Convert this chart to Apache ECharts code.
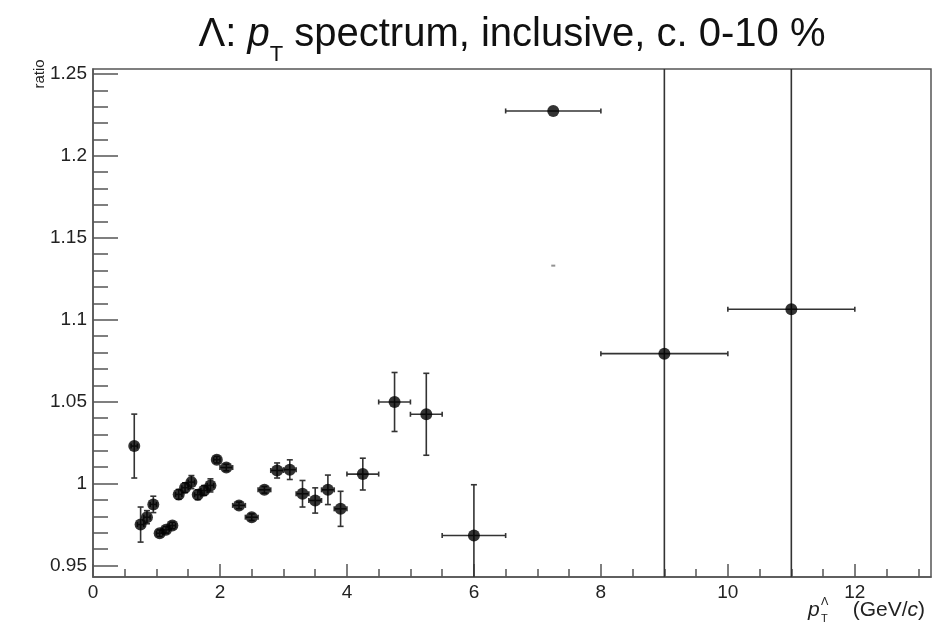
<!DOCTYPE html>
<html>
<head>
<meta charset="utf-8">
<title>Lambda pT spectrum ratio</title>
<script src="https://cdn.jsdelivr.net/npm/echarts@6/dist/echarts.min.js"></script>
<style>
  html, body { margin: 0; padding: 0; background: #fff; }
  #main { width: 935px; height: 631px; }
</style>
</head>
<body>
<div id="main"></div>
<script>
// bin centres in pT (GeV/c) and the ratio
var ptCenter = [0.65, 0.75, 0.85, 0.95, 1.05, 1.15, 1.25, 1.35, 1.45, 1.55, 1.65, 1.75, 1.85, 1.95,
  2.1, 2.3, 2.5, 2.7, 2.9, 3.1, 3.3, 3.5, 3.7, 3.9, 4.25, 4.75, 5.25, 6, 7.25, 9, 11];
var ratio = [1.0229, 0.975, 0.9795, 0.9873, 0.9697, 0.9718, 0.9744, 0.9934, 0.9975, 1.0009, 0.9932, 0.9958, 0.9989, 1.0146,
  1.0098, 0.9867, 0.9795, 0.9962, 1.008, 1.0085, 0.9938, 0.9897, 0.9962, 0.9846, 1.0058, 1.0498, 1.0423, 0.9683, 1.2274, 1.0793, 1.1064];
// half bin widths
var ptHalfWidth = [0.05, 0.05, 0.05, 0.05, 0.05, 0.05, 0.05, 0.05, 0.05, 0.05, 0.05, 0.05, 0.05, 0.05,
  0.1, 0.1, 0.1, 0.1, 0.1, 0.1, 0.1, 0.1, 0.1, 0.1, 0.25, 0.25, 0.25, 0.5, 0.75, 1, 1];
// vertical errors (last two run off the frame)
var ratioErr = [0.0195, 0.0107, 0.004, 0.005, 0.002, 0.002, 0.002, 0.003, 0.003, 0.004, 0.003, 0.003, 0.004, 0.002,
  0.002, 0.002, 0.002, 0.002, 0.0046, 0.006, 0.0081, 0.0077, 0.009, 0.0107, 0.0097, 0.018, 0.025, 0.031, 0, 0.5, 0.5];
// the little stray dash under the 7.25 point
var strayX = [7.25];
var strayY = [1.133];

var xMajorTicks = [0, 2, 4, 6, 8, 10, 12];
var yMajorTicks = [0.95, 1, 1.05, 1.1, 1.15, 1.2, 1.25];

var xMinorTicks = [];
for (var i = 1; i <= 26; i++) xMinorTicks.push(i * 0.5);
var yMinorTicks = [];
for (var j = 0; j <= 30; j++) yMinorTicks.push(+(0.95 + j * 0.01).toFixed(2));

var font = "'Liberation Sans', Arial, Helvetica, sans-serif";
var axisColor = '#555';
var barColor = '#333';

var points = ptCenter.map(function (x, k) {
  return [x, ratio[k], ptHalfWidth[k], ratioErr[k]];
});
var stray = strayX.map(function (x, k) { return [x, strayY[k]]; });

function renderErrors(params, api) {
  var x = api.value(0), y = api.value(1), ex = api.value(2), ey = api.value(3);
  var c = api.coord([x, y]);
  var style = { stroke: barColor, lineWidth: 1.6 };
  var kids = [];
  if (ex > 0) {
    var l = api.coord([x - ex, y])[0], r = api.coord([x + ex, y])[0];
    kids.push({ type: 'line', shape: { x1: l, y1: c[1], x2: r, y2: c[1] }, style: style });
    kids.push({ type: 'line', shape: { x1: l, y1: c[1] - 2.5, x2: l, y2: c[1] + 2.5 }, style: style });
    kids.push({ type: 'line', shape: { x1: r, y1: c[1] - 2.5, x2: r, y2: c[1] + 2.5 }, style: style });
  }
  if (ey > 0) {
    var t = api.coord([x, y + ey])[1], b = api.coord([x, y - ey])[1];
    kids.push({ type: 'line', shape: { x1: c[0], y1: t, x2: c[0], y2: b }, style: style });
    kids.push({ type: 'line', shape: { x1: c[0] - 3, y1: t, x2: c[0] + 3, y2: t }, style: style });
    kids.push({ type: 'line', shape: { x1: c[0] - 3, y1: b, x2: c[0] + 3, y2: b }, style: style });
  }
  return { type: 'group', children: kids };
}

var chart = echarts.init(document.getElementById('main'));
var option = {
  backgroundColor: '#fff',
  animation: false,
  textStyle: { fontFamily: font },
  grid: {
    left: 93, right: 4, top: 69, bottom: 54,
    show: true, borderColor: axisColor, borderWidth: 1.5
  },
  xAxis: [{
    type: 'value', min: 0, max: 13.2, position: 'bottom',
    axisLine: { show: true, onZero: false, lineStyle: { color: axisColor, width: 1.5 } },
    axisTick: { show: true, inside: true, length: 13, customValues: xMajorTicks, lineStyle: { color: axisColor, width: 1.5 } },
    axisLabel: { customValues: xMajorTicks, fontSize: 19, color: '#222', margin: 6, fontFamily: font },
    splitLine: { show: false }
  }, {
    type: 'value', min: 0, max: 13.2, position: 'bottom',
    axisLine: { show: false },
    axisTick: { show: true, inside: true, length: 8, customValues: xMinorTicks, lineStyle: { color: axisColor, width: 1.5 } },
    axisLabel: { show: false },
    splitLine: { show: false }
  }],
  yAxis: [{
    type: 'value', min: 0.943, max: 1.253, position: 'left',
    axisLine: { show: true, onZero: false, lineStyle: { color: axisColor, width: 1.5 } },
    axisTick: { show: true, inside: true, length: 25, customValues: yMajorTicks, lineStyle: { color: axisColor, width: 1.5 } },
    axisLabel: { customValues: yMajorTicks, fontSize: 19, color: '#222', margin: 6, fontFamily: font },
    splitLine: { show: false }
  }, {
    type: 'value', min: 0.943, max: 1.253, position: 'left',
    axisLine: { show: false },
    axisTick: { show: true, inside: true, length: 15, customValues: yMinorTicks, lineStyle: { color: axisColor, width: 1.5 } },
    axisLabel: { show: false },
    splitLine: { show: false }
  }],
  graphic: [{
    type: 'text', x: 512, y: 55,
    style: {
      text: '{n|Λ: }{i|p}{s|T}{n| spectrum, inclusive, c. 0-10 %}',
      align: 'center', verticalAlign: 'middle',
      rich: {
        n: { fontSize: 40, fontFamily: font, fill: '#111', lineHeight: 46, verticalAlign: 'top' },
        i: { fontSize: 40, fontFamily: font, fontStyle: 'italic', fill: '#111', lineHeight: 46, verticalAlign: 'top' },
        s: { fontSize: 22, fontFamily: font, fill: '#111', lineHeight: 80, verticalAlign: 'middle' }
      }
    }
  }, {
    type: 'text', x: 40, y: 74, rotation: Math.PI / 2,
    style: { text: 'ratio', fontSize: 15, fontFamily: font, fill: '#222', align: 'center', verticalAlign: 'middle' }
  }, {
    type: 'text', x: 808, y: 610,
    style: { text: 'p', fontSize: 21, fontStyle: 'italic', fontFamily: font, fill: '#222', verticalAlign: 'middle' }
  }, {
    type: 'text', x: 821, y: 602,
    style: { text: 'Λ', fontSize: 11, fontFamily: font, fill: '#222', verticalAlign: 'middle' }
  }, {
    type: 'text', x: 821, y: 619,
    style: { text: 'T', fontSize: 11, fontFamily: font, fill: '#222', verticalAlign: 'middle' }
  }, {
    type: 'text', x: 925, y: 610,
    style: {
      text: '(GeV/{i|c})', fontSize: 21, fontFamily: font, fill: '#222', align: 'right', verticalAlign: 'middle',
      rich: { i: { fontSize: 21, fontFamily: font, fontStyle: 'italic', fill: '#222' } }
    }
  }],
  series: [{
    type: 'custom',
    xAxisIndex: 0, yAxisIndex: 0,
    renderItem: renderErrors,
    data: points,
    clip: true,
    z: 2
  }, {
    type: 'scatter',
    xAxisIndex: 0, yAxisIndex: 0,
    data: points,
    symbol: 'circle', symbolSize: 12,
    itemStyle: { color: '#000' },
    clip: true,
    z: 3
  }, {
    type: 'scatter',
    xAxisIndex: 0, yAxisIndex: 0,
    data: stray,
    symbol: 'rect', symbolSize: [4, 2],
    itemStyle: { color: '#777' },
    z: 3
  }]
};
chart.setOption(option);
</script>
</body>
</html>
